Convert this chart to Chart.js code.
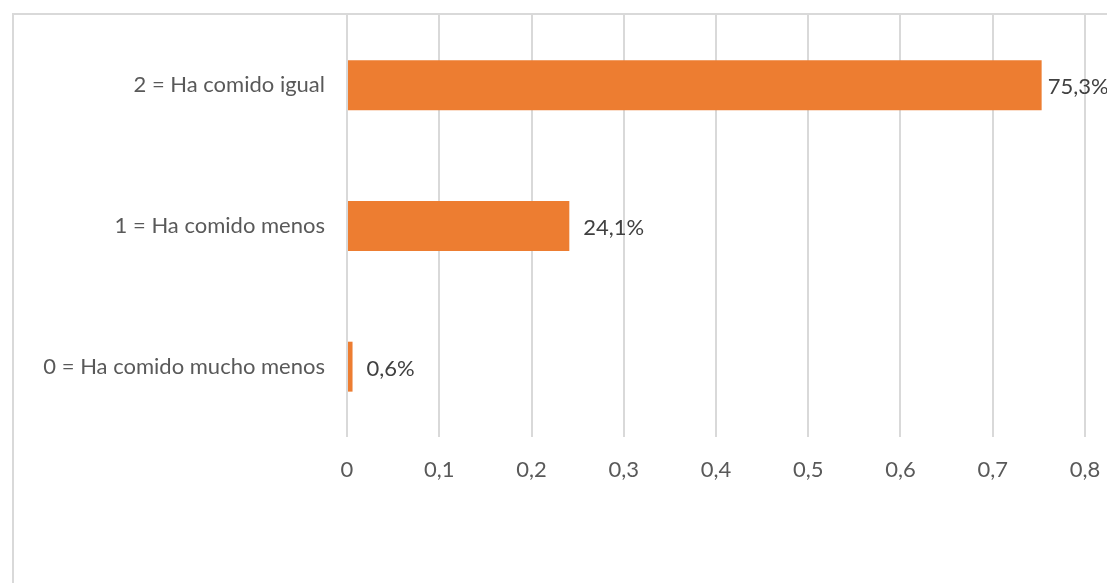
<!DOCTYPE html>
<html lang="es">
<head>
  <meta charset="UTF-8">
  <title>Ha comido</title>
  <script src="https://cdn.jsdelivr.net/npm/chart.js"></script>
  <style>
    html, body { margin: 0; padding: 0; background: #fff; overflow: hidden; }
    #frame {
      position: absolute;
      left: 12px;
      top: 13px;
      width: 1200px;
      height: 700px;
      border-left: 2px solid #d9d9d9;
      border-top: 2px solid #d9d9d9;
    }
    #wrap {
      position: absolute;
      left: 14px;
      top: 15px;
      width: 1093px;
      height: 568px;
    }
  </style>
</head>
<body>
  <div id="frame"></div>
  <div id="wrap"><canvas id="chart"></canvas></div>
  <script>
    // datos del gráfico
    const categorias = ["2 = Ha comido igual", "1 = Ha comido menos", "0 = Ha comido mucho menos"];
    const valores = [0.753, 0.241, 0.006];
    const ejeMin = 0;
    const ejeMax = 0.8;
    const ejePaso = 0.1;

    const fuente = "Lato, sans-serif";
    const coma = (s) => String(s).replace(".", ",");

    // etiquetas de datos al final de cada barra (se empujan hacia dentro si no caben)
    const etiquetasBarras = {
      id: "etiquetasBarras",
      afterDatasetsDraw(chart) {
        const ctx = chart.ctx;
        const meta = chart.getDatasetMeta(0);
        ctx.save();
        ctx.font = "22px " + fuente;
        ctx.fillStyle = "#404040";
        ctx.textAlign = "left";
        ctx.textBaseline = "middle";
        meta.data.forEach((bar, i) => {
          const txt = coma((valores[i] * 100).toFixed(1)) + "%";
          const w = ctx.measureText(txt).width;
          let x = bar.x + 14;
          if (x + w > chart.width + 1) x = Math.max(bar.x + 6, chart.width + 1 - w);
          ctx.fillText(txt, x, bar.y + 2);
        });
        ctx.restore();
      }
    };

    new Chart(document.getElementById("chart"), {
      type: "bar",
      data: {
        labels: categorias,
        datasets: [{
          data: valores,
          backgroundColor: "#ed7d31",
          borderWidth: 0,
          barPercentage: 0.5,
          categoryPercentage: 0.71
        }]
      },
      options: {
        indexAxis: "y",
        responsive: true,
        maintainAspectRatio: false,
        animation: false,
        layout: { padding: { top: 0, right: 22, left: 0, bottom: 0 } },
        plugins: {
          legend: { display: false },
          tooltip: { enabled: false }
        },
        scales: {
          x: {
            min: ejeMin,
            max: ejeMax,
            ticks: {
              stepSize: ejePaso,
              padding: 20,
              color: "#595959",
              font: { family: fuente, size: 22 },
              callback: (v) => coma(Math.round(v * 10) / 10)
            },
            grid: { color: "#d9d9d9", lineWidth: 2, drawTicks: false },
            border: { display: false },
            afterFit(scale) {
              scale.height = 146;
              scale.paddingLeft = 0;
              scale.paddingRight = 0;
            }
          },
          y: {
            ticks: {
              padding: 14,
              color: "#595959",
              font: { family: fuente, size: 22 }
            },
            grid: { display: false },
            border: { display: false },
            afterFit(scale) {
              scale.width = 333;
              scale.paddingTop = 0;
              scale.paddingBottom = 0;
            }
          }
        }
      },
      plugins: [etiquetasBarras]
    });
  </script>
</body>
</html>
